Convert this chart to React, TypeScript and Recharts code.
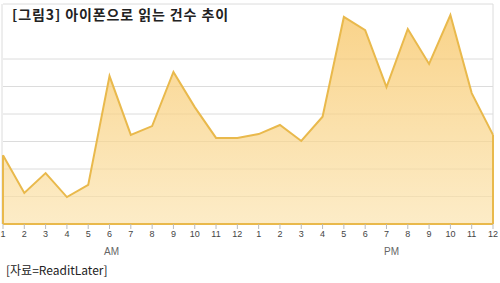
import { AreaChart, Area, XAxis, YAxis, CartesianGrid, ReferenceLine } from "recharts";

const hours = [
  "1a", "2a", "3a", "4a", "5a", "6a", "7a", "8a", "9a", "10a", "11a", "12a",
  "1p", "2p", "3p", "4p", "5p", "6p", "7p", "8p", "9p", "10p", "11p", "12p",
];
const reads = [
  2.5, 1.13, 1.85, 0.98, 1.42, 5.38, 3.24, 3.56, 5.53, 4.25, 3.13, 3.13,
  3.27, 3.6, 3.02, 3.9, 7.53, 7.05, 4.98, 7.09, 5.82, 7.6, 4.76, 3.24,
];
const yTicks = [0, 1, 2, 3, 4, 5, 6, 7, 8];

const data = hours.map((h, i) => ({ hour: h, reads: reads[i] }));

const lineColor = "#e9b94c";
const labelFont = "Arial, 'Liberation Sans', sans-serif";
const koFont = "'Noto Sans CJK KR', sans-serif";

export default function App() {
  return (
    <div style={{ position: "absolute", left: 0, top: 0, width: 500, height: 283, background: "#fff" }}>
      <AreaChart width={500} height={283} data={data} margin={{ top: 4, right: 7, bottom: 39, left: 3 }}>
        <defs>
          <linearGradient id="fillArea" x1="0" y1="0" x2="0" y2="1">
            <stop offset="0%" stopColor="#f7c25c" stopOpacity={0.72} />
            <stop offset="100%" stopColor="#fbe3ad" stopOpacity={0.68} />
          </linearGradient>
        </defs>
        <CartesianGrid
          stroke="#dcdcdc"
          verticalCoordinatesGenerator={({ offset }: any) => [offset.left - 1, offset.left + offset.width]}
        />
        <XAxis
          dataKey="hour"
          height={20}
          interval={0}
          tickFormatter={(v: string) => v.replace(/[ap]$/, "")}
          tick={{ fontSize: 9, fill: "#444", fontFamily: labelFont }}
          tickLine={{ stroke: "#bbb" }}
          tickSize={5}
          axisLine={false}
        />
        <YAxis hide domain={[0, 8]} ticks={yTicks} />
        <Area
          type="linear"
          dataKey="reads"
          stroke={lineColor}
          strokeWidth={2}
          fill="url(#fillArea)"
          fillOpacity={1}
          isAnimationActive={false}
          dot={false}
          activeDot={false}
        />
        <ReferenceLine y={0} stroke={lineColor} strokeWidth={2} />
        <ReferenceLine
          segment={[{ x: hours[0], y: 0 }, { x: hours[0], y: reads[0] }]}
          stroke={lineColor}
          strokeWidth={2}
        />
        <ReferenceLine
          segment={[{ x: hours[23], y: 0 }, { x: hours[23], y: reads[23] }]}
          stroke={lineColor}
          strokeWidth={2}
        />
      </AreaChart>
      <div
        style={{
          position: "absolute",
          left: 8,
          top: 5,
          width: 252,
          height: 34,
          background: "#fff",
          fontFamily: koFont,
          fontWeight: 700,
          fontSize: 14,
          letterSpacing: 0.9,
          color: "#222",
          lineHeight: "18px",
          paddingLeft: 4,
          boxSizing: "border-box",
          whiteSpace: "nowrap",
        }}
      >
        [그림3] 아이폰으로 읽는 건수 추이
      </div>
      <div style={{ position: "absolute", left: 104, top: 246, fontFamily: labelFont, fontSize: 10, color: "#666" }}>AM</div>
      <div style={{ position: "absolute", left: 384, top: 246, fontFamily: labelFont, fontSize: 10, color: "#666" }}>PM</div>
      <div style={{ position: "absolute", left: 6, top: 261, fontFamily: koFont, fontSize: 12, color: "#222" }}>
        [자료=ReaditLater]
      </div>
    </div>
  );
}
